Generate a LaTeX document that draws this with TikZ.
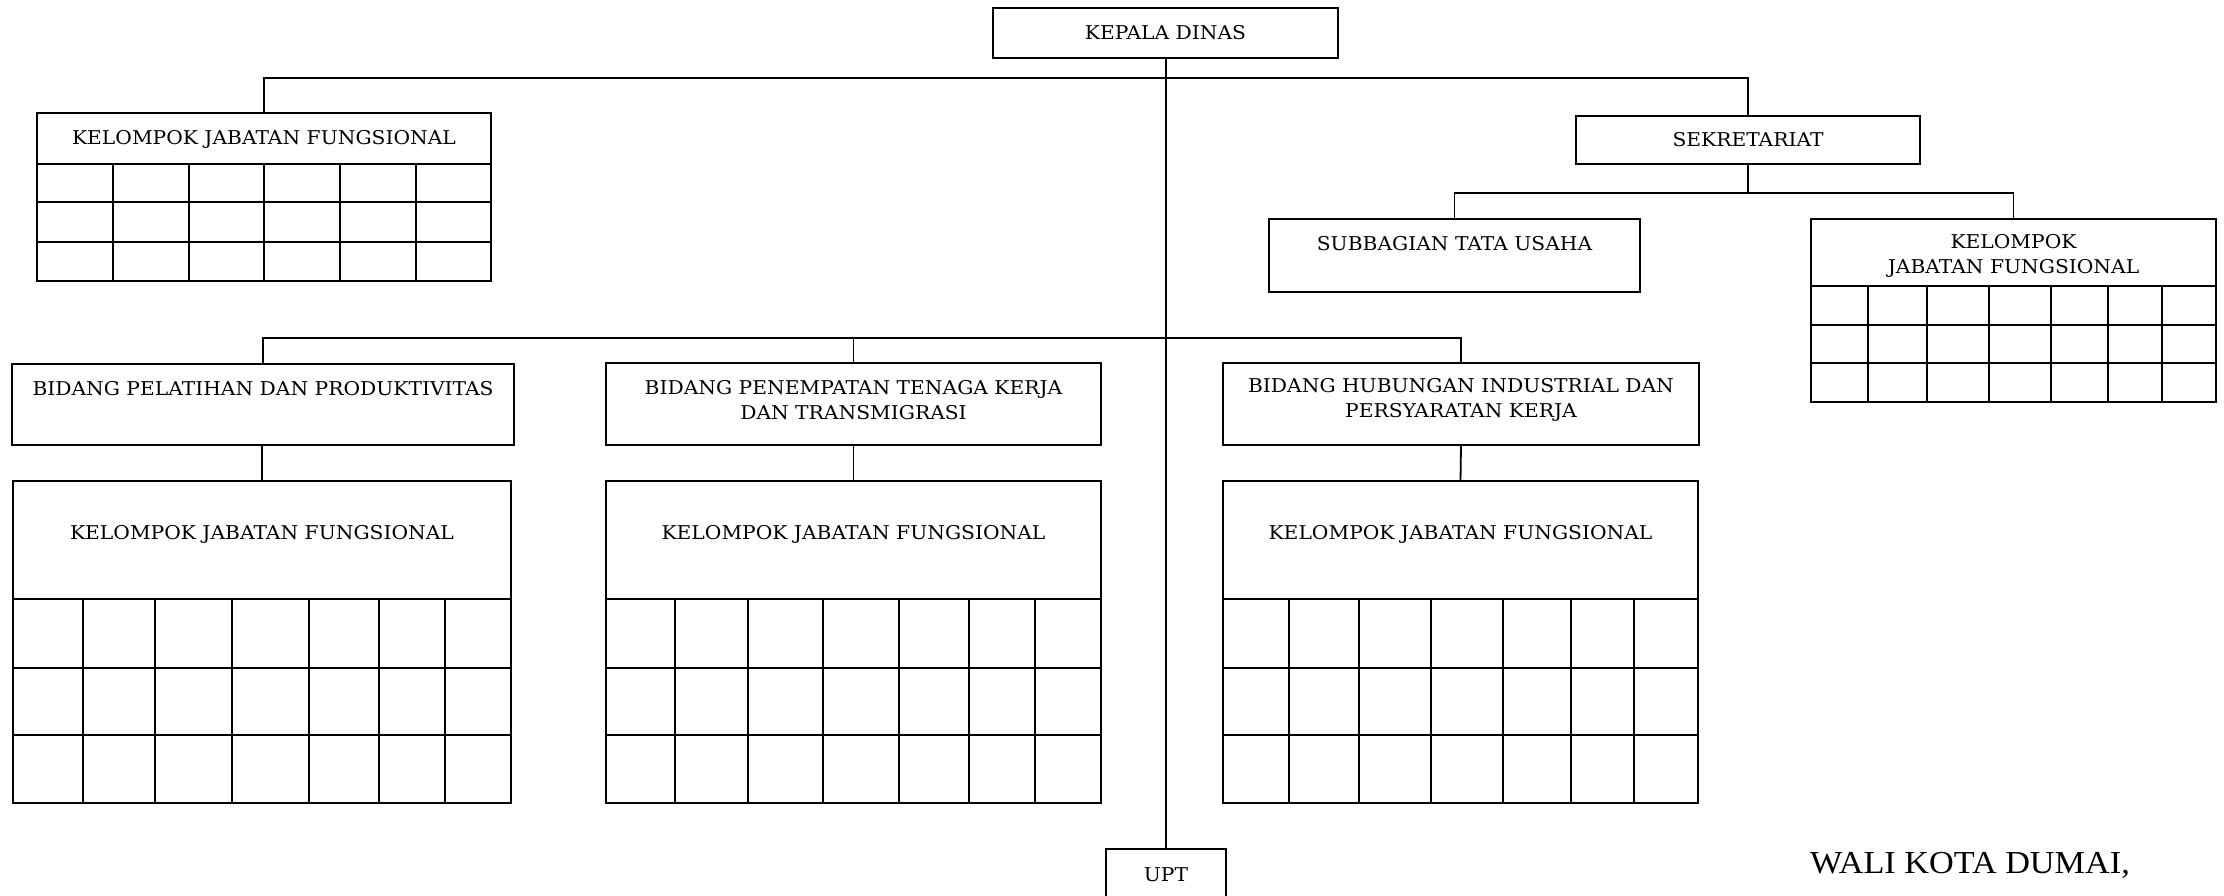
\documentclass[tikz,border=0pt]{standalone}
\usepackage{fontspec}
\setmainfont{DejaVu Serif}[FakeStretch=1.065]
\newfontfamily\timesf{Liberation Serif}[FakeStretch=1.07]
\begin{document}
\begin{tikzpicture}[x=1pt,y=-1pt,
  box/.style={draw, rectangle, line width=1.8pt, inner sep=0pt, outer sep=0pt},
  txt/.style={inner sep=0pt, align=center, font=\fontsize{19}{25}\selectfont},
  conn/.style={line width=1.8pt},
  gridl/.style={line width=1.6pt}]
\useasboundingbox (0,0) rectangle (2224,895);
\clip (0,0) rectangle (2224,895);

% boxes
\node[box, minimum width=345, minimum height=50] (kd) at (1165.5,33) {};
\node[txt] (kdt) at (1165.5,33) {KEPALA DINAS};

\node[box, minimum width=454, minimum height=168] (kjf1) at (264,197) {};
\node[txt] (kjf1t) at (264,139) {KELOMPOK JABATAN FUNGSIONAL};

\node[box, minimum width=344, minimum height=48] (sek) at (1748,140) {};
\node[txt] (sekt) at (1748,140) {SEKRETARIAT};

\node[box, minimum width=371, minimum height=73] (sub) at (1454.5,255.5) {};
\node[txt] (subt) at (1454.5,244) {SUBBAGIAN TATA USAHA};

\node[box, minimum width=405, minimum height=183] (kjfr) at (2013.5,310.5) {};
\node[txt] (kjfrt) at (2013.5,256) {KELOMPOK\\JABATAN FUNGSIONAL};

\node[box, minimum width=502, minimum height=81] (bp) at (263,404.5) {};
\node[txt] (bpt) at (263,389) {BIDANG PELATIHAN DAN PRODUKTIVITAS};

\node[box, minimum width=495, minimum height=82] (bt) at (853.5,404) {};
\node[txt] (btt) at (853.5,400) {BIDANG PENEMPATAN TENAGA KERJA\\DAN TRANSMIGRASI};

\node[box, minimum width=476, minimum height=82] (bh) at (1461,404) {};
\node[txt] (bht) at (1461,400) {BIDANG HUBUNGAN INDUSTRIAL DAN\\PERSYARATAN KERJA};

\node[box, minimum width=498, minimum height=322] (kp) at (262,642) {};
\node[txt] (kpt) at (262,534) {KELOMPOK JABATAN FUNGSIONAL};

\node[box, minimum width=495, minimum height=322] (kt) at (853.5,642) {};
\node[txt] (ktt) at (853.5,534) {KELOMPOK JABATAN FUNGSIONAL};

\node[box, minimum width=475, minimum height=322] (kh) at (1460.5,642) {};
\node[txt] (kht) at (1460.5,534) {KELOMPOK JABATAN FUNGSIONAL};

\node[box, minimum width=120, minimum height=60] (upt) at (1166,879) {};
\node[txt] (uptt) at (1166,875) {UPT};

\node[inner sep=0pt, anchor=base west, font=\timesf\fontsize{32}{36}\selectfont] (wali) at (1810,873) {WALI KOTA DUMAI,};

% table grids
\foreach \yy in {164,202,242} \draw[gridl] (37,\yy) -- (491,\yy);
\foreach \xx in {113,189,264,340,416} \draw[gridl] (\xx,164) -- (\xx,281);

\foreach \yy in {286,325,363} \draw[gridl] (1811,\yy) -- (2216,\yy);
\foreach \xx in {1868,1927,1989,2051,2108,2162} \draw[gridl] (\xx,286) -- (\xx,402);

\foreach \yy in {599,668,735} \draw[gridl] (13,\yy) -- (511,\yy);
\foreach \xx in {83,155,232,309,379,445} \draw[gridl] (\xx,599) -- (\xx,803);

\foreach \yy in {599,668,735} \draw[gridl] (606,\yy) -- (1101,\yy);
\foreach \xx in {675,748,823,899,969,1035} \draw[gridl] (\xx,599) -- (\xx,803);

\foreach \yy in {599,668,735} \draw[gridl] (1223,\yy) -- (1698,\yy);
\foreach \xx in {1289,1359,1431,1503,1571,1634} \draw[gridl] (\xx,599) -- (\xx,803);

% connectors
\coordinate (bar1) at (1167,78);
\coordinate (bar2) at (1748,193);
\coordinate (bar3) at (1167,338);

\draw[conn] (kd.south -| upt.north) -- (upt.north);
\draw[conn] (kjf1.north) -- (kjf1.north |- bar1) -| (sek.north);
\draw[conn] (sek.south) -- (bar2);
\draw[conn] (sub.north) -- (sub.north |- bar2) -| (kjfr.north);
\draw[conn] (bp.north) -- (bp.north |- bar3) -| (bh.north);
\draw[conn] (bt.north) -- (bt.north |- bar3);
\draw[conn] (bp.south) -- (bp.south -| kp.north);
\draw[conn] (bp.south -| kp.north) -- (kp.north);
\draw[conn] (bt.south) -- (kt.north);
\draw[conn] (bh.south) -- (kh.north);
\end{tikzpicture}
\end{document}
